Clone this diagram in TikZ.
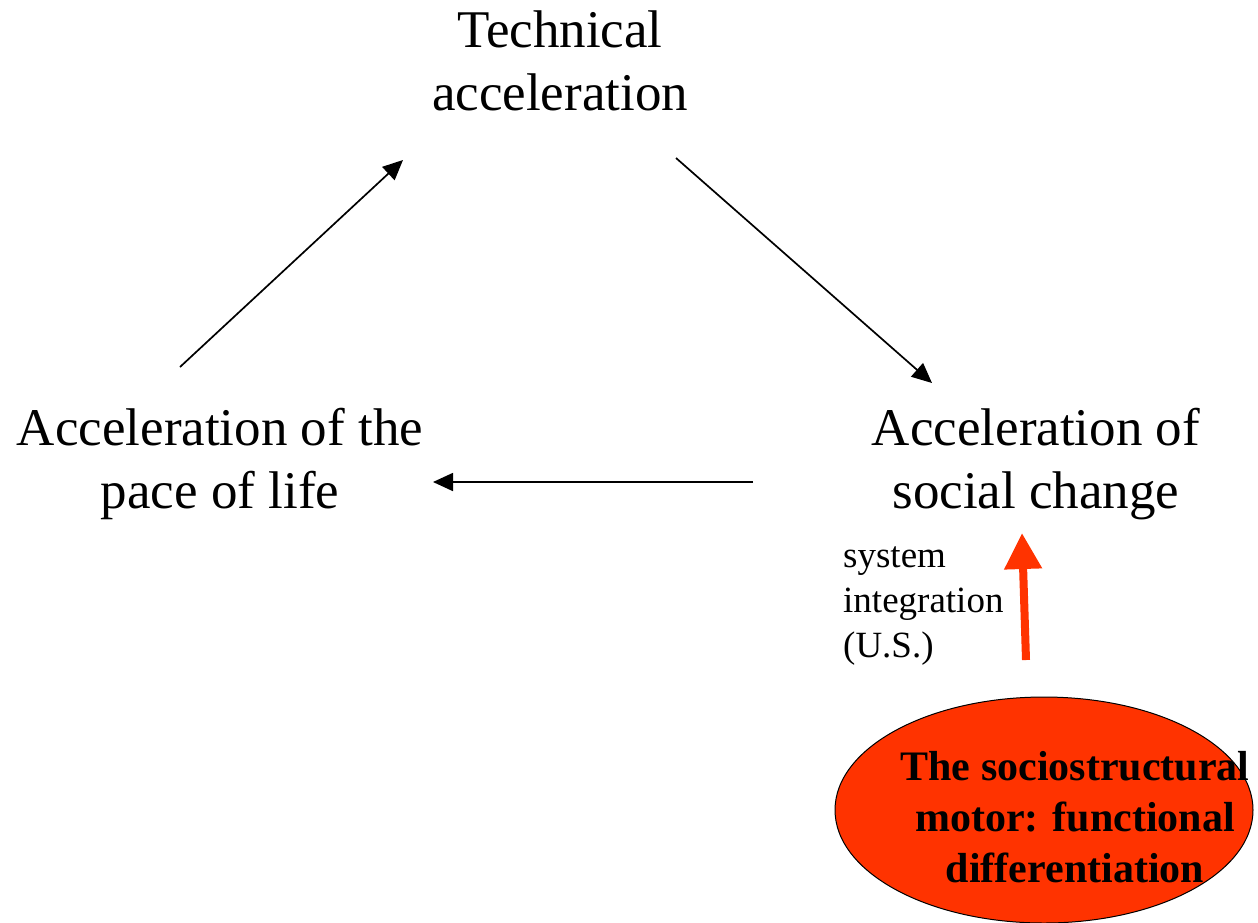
\documentclass[tikz,border=0pt]{standalone}
\usepackage{fontspec}
\setmainfont{Liberation Serif}
\usetikzlibrary{arrows.meta,shapes.geometric}
\definecolor{motorred}{RGB}{255,51,0}
\tikzset{
 big/.style={font=\fontsize{53}{63}\selectfont,align=center,inner sep=0pt,anchor=base},
 small/.style={font=\fontsize{37}{45}\selectfont,align=left,inner sep=0pt,anchor=base west},
 link/.style={line width=1.7pt,-{Triangle[length=20pt,width=18pt]}},
 push/.style={line width=8pt,motorred,-{Triangle[length=36pt,width=36pt]}},
}
\begin{document}
\begin{tikzpicture}[x=1pt,y=-1pt]
 \useasboundingbox (0,0) rectangle (1258,922);
 % the three corners (base = last line)
 \node[big] (tech) at (560,110) {Technical\\acceleration};
 \node[big] (life) at (220,508) {Acceleration of the\\pace of life};
 \node[big] (social) at (1036,508) {Acceleration of\\social change};
 \node[small] (integr) at (843,657) {system\\integration\\(U.S.)};
 % the motor
 \node[ellipse,draw=black,line width=1pt,fill=motorred,minimum width=418pt,minimum height=226pt,inner sep=0pt] (motor) at (1044,810) {};
 \node[font=\bfseries\fontsize{42}{51}\selectfont,align=center,inner sep=0pt,anchor=base] (motortext) at (1075,882) {The sociostructural\\motor: functional\\differentiation};
 % arrow ends
 \coordinate (lifeout) at (180,367);
 \coordinate (techin) at (403,160);
 \coordinate (techout) at (676,158);
 \coordinate (socialin) at (932,383);
 \coordinate (socialout) at (753,482);
 \coordinate (lifein) at (433,482);
 \coordinate (motorout) at (1026,660);
 \coordinate (motorin) at (1022,533);
 \draw[link] (lifeout) -- (techin);
 \draw[link] (techout) -- (socialin);
 \draw[link] (socialout) -- (lifein);
 \draw[push] (motorout) -- (motorin);
\end{tikzpicture}
\end{document}
